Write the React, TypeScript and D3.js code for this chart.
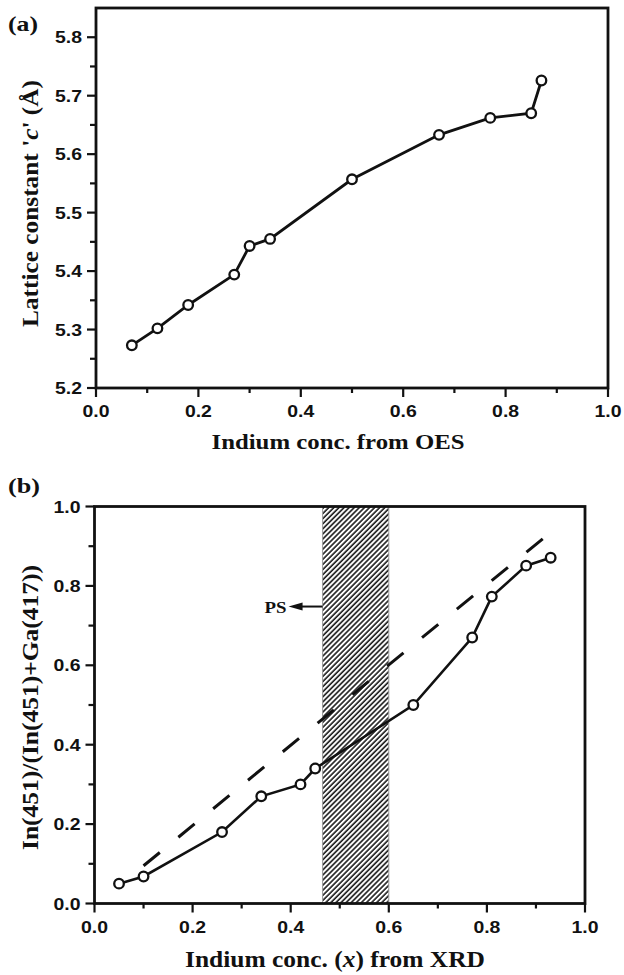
import React from "react";
import * as d3 from "d3";

// Panel (a) data
const oesX = [0.07, 0.12, 0.18, 0.27, 0.30, 0.34, 0.50, 0.67, 0.77, 0.85, 0.87];
const latticeC = [5.273, 5.302, 5.342, 5.394, 5.443, 5.455, 5.557, 5.633, 5.662, 5.670, 5.726];
const aXTicks = [0, 0.2, 0.4, 0.6, 0.8, 1.0];
const aYTicks = [5.2, 5.3, 5.4, 5.5, 5.6, 5.7, 5.8];

// Panel (b) data
const xrdX = [0.05, 0.10, 0.26, 0.34, 0.42, 0.45, 0.65, 0.77, 0.81, 0.88, 0.93];
const ratio = [0.05, 0.068, 0.18, 0.27, 0.30, 0.34, 0.50, 0.67, 0.773, 0.851, 0.871];
const dashX = [0.10, 0.93];
const dashY = [0.095, 0.935];
const psRange = [0.465, 0.60];
const psArrowY = 0.748;
const bXTicks = [0, 0.2, 0.4, 0.6, 0.8, 1.0];
const bYTicks = [0, 0.2, 0.4, 0.6, 0.8, 1.0];

const SANS = "Liberation Sans";
const SERIF = "Liberation Serif";
const INK = "#111";

function Frame({ x, y, yMinor, xMinor, xTicks, yTicks }: any) {
  const [x0, x1] = x.range();
  const [y0, y1] = y.range();
  return (
    <g>
      {xMinor.map((t: number, i: number) => (
        <line key={"xm" + i} x1={x(t)} x2={x(t)} y1={y0} y2={y0 + 5} stroke={INK} strokeWidth={2.2} />
      ))}
      {xTicks.map((t: number, i: number) => (
        <g key={"xt" + i}>
          <line x1={x(t)} x2={x(t)} y1={y0} y2={y0 + 9} stroke={INK} strokeWidth={2.2} />
          <text x={x(t)} y={y0 + 29} textAnchor="middle" fontFamily={SANS} fontWeight="bold" fontSize={17}
            textLength={27} lengthAdjust="spacingAndGlyphs" fill={INK}>{t.toFixed(1)}</text>
        </g>
      ))}
      {yMinor.map((t: number, i: number) => (
        <line key={"ym" + i} x1={x0 - 6} x2={x0} y1={y(t)} y2={y(t)} stroke={INK} strokeWidth={2.2} />
      ))}
      {yTicks.map((t: number, i: number) => (
        <g key={"yt" + i}>
          <line x1={x0 - 9} x2={x0} y1={y(t)} y2={y(t)} stroke={INK} strokeWidth={2.2} />
          <text x={x0 - 14} y={y(t) + 6} textAnchor="end" fontFamily={SANS} fontWeight="bold" fontSize={17}
            textLength={27} lengthAdjust="spacingAndGlyphs" fill={INK}>{t.toFixed(1)}</text>
        </g>
      ))}
      <rect x={x0} y={y1} width={x1 - x0} height={y0 - y1} fill="none" stroke={INK} strokeWidth={2.8} />
    </g>
  );
}

export default function App() {
  // Panel (a)
  const ax = d3.scaleLinear().domain([0, 1]).range([96, 608]);
  const ay = d3.scaleLinear().domain([5.2, 5.85]).range([388, 8]);
  const aLine = d3.line<number>().x((d, i) => ax(oesX[i])).y((d) => ay(d));
  const aXMinor = d3.range(0.1, 1.0, 0.2);
  const aYMinor = d3.range(5.25, 5.85, 0.1);

  // Panel (b)
  const bx = d3.scaleLinear().domain([0, 1]).range([94.5, 585]);
  const by = d3.scaleLinear().domain([0, 1]).range([903.5, 506.5]);
  const bLine = d3.line<number>().x((d, i) => bx(xrdX[i])).y((d) => by(d));
  const dLine = d3.line<number>().x((d, i) => bx(dashX[i])).y((d) => by(d));
  const bXMinor = d3.range(0.1, 1.0, 0.2);
  const bYMinor = d3.range(0.1, 1.0, 0.2);

  const psL = bx(psRange[0]);
  const psR = bx(psRange[1]);
  const arrY = by(psArrowY);
  const tip = psL - 34;

  return (
    <svg width={624} height={975} style={{ position: "absolute", left: 0, top: 0, background: "#fff" }}>
      <defs>
        <pattern id="hatch" width={3.6} height={3.6} patternUnits="userSpaceOnUse" patternTransform="rotate(-45)">
          <rect width={3.6} height={3.6} fill="#fff" />
          <line x1={0} y1={1} x2={3.6} y2={1} stroke="#1a1a1a" strokeWidth={1.6} />
        </pattern>
      </defs>
      <rect width={624} height={975} fill="#fff" />

      {/* Panel (a) */}
      <text x={8} y={31} fontFamily={SERIF} fontWeight="bold" fontSize={21} textLength={30} lengthAdjust="spacingAndGlyphs" fill={INK}>(a)</text>
      <path d={aLine(latticeC) || ""} fill="none" stroke={INK} strokeWidth={2.8} />
      {latticeC.map((v, i) => (
        <circle key={"a" + i} cx={ax(oesX[i])} cy={ay(v)} r={4.8} fill="#fff" stroke={INK} strokeWidth={2.3} />
      ))}
      <Frame x={ax} y={ay} xMinor={aXMinor} yMinor={aYMinor} xTicks={aXTicks} yTicks={aYTicks} />
      <text x={338} y={449} textAnchor="middle" fontFamily={SERIF} fontWeight="bold" fontSize={22}
        textLength={253} lengthAdjust="spacingAndGlyphs" fill={INK}>Indium conc. from OES</text>
      <text transform={`translate(38,203.5) rotate(-90)`} textAnchor="middle" fontFamily={SERIF} fontWeight="bold" fontSize={23}
        textLength={247} lengthAdjust="spacingAndGlyphs" fill={INK}>
        Lattice constant &apos;<tspan fontStyle="italic">c</tspan>&apos; (Å)
      </text>

      {/* Panel (b) */}
      <text x={8} y={493} fontFamily={SERIF} fontWeight="bold" fontSize={21} textLength={32} lengthAdjust="spacingAndGlyphs" fill={INK}>(b)</text>
      <rect x={psL} y={by(1)} width={psR - psL} height={by(0) - by(1)} fill="url(#hatch)" stroke="#999" strokeWidth={1} />
      <path d={dLine(dashY) || ""} fill="none" stroke={INK} strokeWidth={3} strokeDasharray="21,24" />
      <path d={bLine(ratio) || ""} fill="none" stroke={INK} strokeWidth={2.6} />
      {ratio.map((v, i) => (
        <circle key={"b" + i} cx={bx(xrdX[i])} cy={by(v)} r={4.8} fill="#fff" stroke={INK} strokeWidth={2.3} />
      ))}
      <line x1={psL} x2={tip + 10} y1={arrY} y2={arrY} stroke={INK} strokeWidth={2} />
      <polygon points={`${tip},${arrY} ${tip + 14},${arrY - 4} ${tip + 14},${arrY + 4}`} fill={INK} />
      <text x={tip - 2} y={arrY + 6} textAnchor="end" fontFamily={SERIF} fontWeight="bold" fontSize={17}
        textLength={22} lengthAdjust="spacingAndGlyphs" fill={INK}>PS</text>
      <Frame x={bx} y={by} xMinor={bXMinor} yMinor={bYMinor} xTicks={bXTicks} yTicks={bYTicks} />
      <text x={335} y={967} textAnchor="middle" fontFamily={SERIF} fontWeight="bold" fontSize={23}
        textLength={300} lengthAdjust="spacingAndGlyphs" fill={INK}>
        Indium conc. (<tspan fontStyle="italic">x</tspan>) from XRD
      </text>
      <text transform={`translate(38,707.5) rotate(-90)`} textAnchor="middle" fontFamily={SERIF} fontWeight="bold" fontSize={23}
        textLength={285} lengthAdjust="spacingAndGlyphs" fill={INK}>In(451)/(In(451)+Ga(417))</text>
    </svg>
  );
}
